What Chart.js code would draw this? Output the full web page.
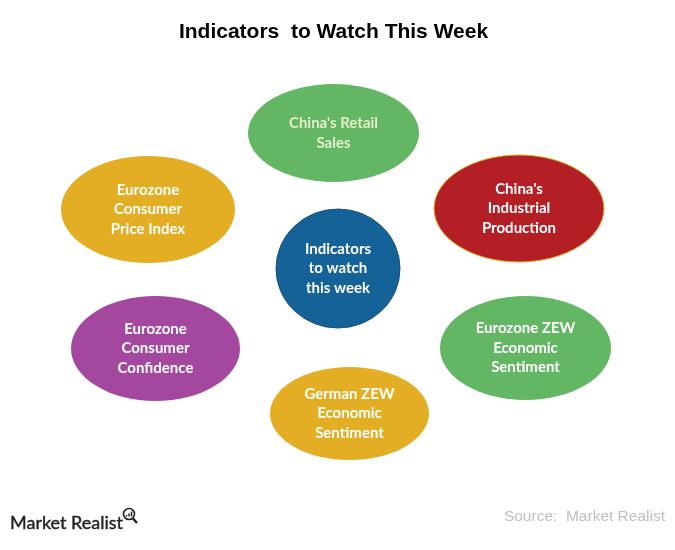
<!DOCTYPE html>
<html>
<head>
<meta charset="utf-8">
<title>Indicators to Watch This Week</title>
<script src="https://cdn.jsdelivr.net/npm/chart.js@4"></script>
<style>
  html, body { margin: 0; padding: 0; background: #fff; }
  #wrap { width: 675px; height: 550px; }
</style>
</head>
<body>
<div id="wrap"><canvas id="grafico" width="675" height="550"></canvas></div>
<script>
var categories = [
    ["China's Retail", 'Sales'],
    ["China's", 'Industrial', 'Production'],
    ['Indicators', 'to watch', 'this week'],
    ['Eurozone', 'Consumer', 'Price Index'],
    ['Eurozone', 'Consumer', 'Confidence'],
    ['Eurozone ZEW', 'Economic', 'Sentiment'],
    ['German ZEW', 'Economic', 'Sentiment']
];
var centerX = [333.5, 519, 338, 148, 155.5, 525.5, 349.5];
var centerY = [133, 208.5, 268.5, 209.5, 348.5, 348, 413.5];
var widths = [171, 170, 124, 174, 169, 171, 159];
var heights = [98, 107, 119, 107, 105, 104, 93];

var fills = ['#63b663', '#b41f26', '#156299', '#e3ae24', '#a3479f', '#63b663', '#e3ae24'];
var borders = [null, '#e3ae24', '#1f4f78', null, null, null, null];
var textColors = ['#e4edca', '#fff', '#fff', '#fff', '#fff', '#fff', '#fff'];

// scatter points are drawn with an ellipse canvas as the point style
function ellipseStyle(i) {
    var c = document.createElement('canvas');
    c.width = widths[i] + 2;
    c.height = heights[i] + 2;
    var g = c.getContext('2d');
    g.beginPath();
    g.ellipse(c.width / 2, c.height / 2, widths[i] / 2, heights[i] / 2, 0, 0, Math.PI * 2);
    g.fillStyle = fills[i];
    g.fill();
    if (borders[i]) {
        g.strokeStyle = borders[i];
        g.lineWidth = 1;
        g.stroke();
    }
    return c;
}

var points = centerX.map(function (x, i) {
    return { x: x, y: centerY[i] };
});

var labelsPlugin = {
    id: 'labels',
    afterDatasetsDraw: function (chart) {
        var ctx = chart.ctx;
        var meta = chart.getDatasetMeta(0);
        ctx.save();
        ctx.font = 'bold 15px Lato';
        ctx.textAlign = 'center';
        ctx.textBaseline = 'middle';
        meta.data.forEach(function (el, i) {
            var lines = categories[i];
            ctx.fillStyle = textColors[i];
            lines.forEach(function (line, n) {
                ctx.fillText(line, el.x, el.y + (n - (lines.length - 1) / 2) * 19.5);
            });
        });
        ctx.restore();
    }
};

var footerPlugin = {
    id: 'footer',
    afterDraw: function (chart) {
        var ctx = chart.ctx;
        ctx.save();
        ctx.textBaseline = 'alphabetic';

        ctx.font = '15.5px "Liberation Sans"';
        ctx.fillStyle = '#bfbfbf';
        ctx.textAlign = 'right';
        ctx.fillText('Source:  Market Realist', 665, 521);

        ctx.font = '18px Lato';
        ctx.fillStyle = '#222';
        ctx.strokeStyle = '#222';
        ctx.lineWidth = 0.4;
        ctx.textAlign = 'left';
        ctx.fillText('Market Realist', 10, 529);
        ctx.strokeText('Market Realist', 10, 529);

        // magnifier next to the wordmark
        ctx.lineWidth = 1.6;
        ctx.beginPath();
        ctx.arc(129, 514, 5.5, 0, Math.PI * 2);
        ctx.stroke();
        ctx.lineWidth = 2.4;
        ctx.beginPath();
        ctx.moveTo(133, 518.5);
        ctx.lineTo(137, 523);
        ctx.stroke();
        ctx.lineWidth = 1.5;
        ctx.beginPath();
        ctx.moveTo(126.5, 516.5);
        ctx.lineTo(126.5, 515);
        ctx.moveTo(129, 516.5);
        ctx.lineTo(129, 513.5);
        ctx.moveTo(131.5, 516.5);
        ctx.lineTo(131.5, 511.5);
        ctx.stroke();
        ctx.restore();
    }
};

var ctx = document.querySelector('#grafico').getContext('2d');
var chart = new Chart(ctx, {
    type: 'scatter',
    data: {
        datasets: [{
            data: points,
            pointStyle: points.map(function (p, i) { return ellipseStyle(i); }),
            pointRadius: 10,
            pointHoverRadius: 10
        }]
    },
    options: {
        responsive: false,
        animation: false,
        layout: { autoPadding: false, padding: { left: 0, right: 8, top: 0, bottom: 0 } },
        scales: {
            x: { type: 'linear', display: false, min: 0, max: 667 },
            y: { type: 'linear', display: false, reverse: true, min: 50, max: 550 }
        },
        plugins: {
            legend: { display: false },
            tooltip: { enabled: false },
            title: {
                display: true,
                text: 'Indicators  to Watch This Week',
                color: '#000',
                font: { family: '"Liberation Sans"', size: 21, weight: 'bold', lineHeight: 1.2 },
                padding: { top: 20, bottom: 4.8 }
            }
        }
    },
    plugins: [labelsPlugin, footerPlugin]
});
</script>
</body>
</html>
